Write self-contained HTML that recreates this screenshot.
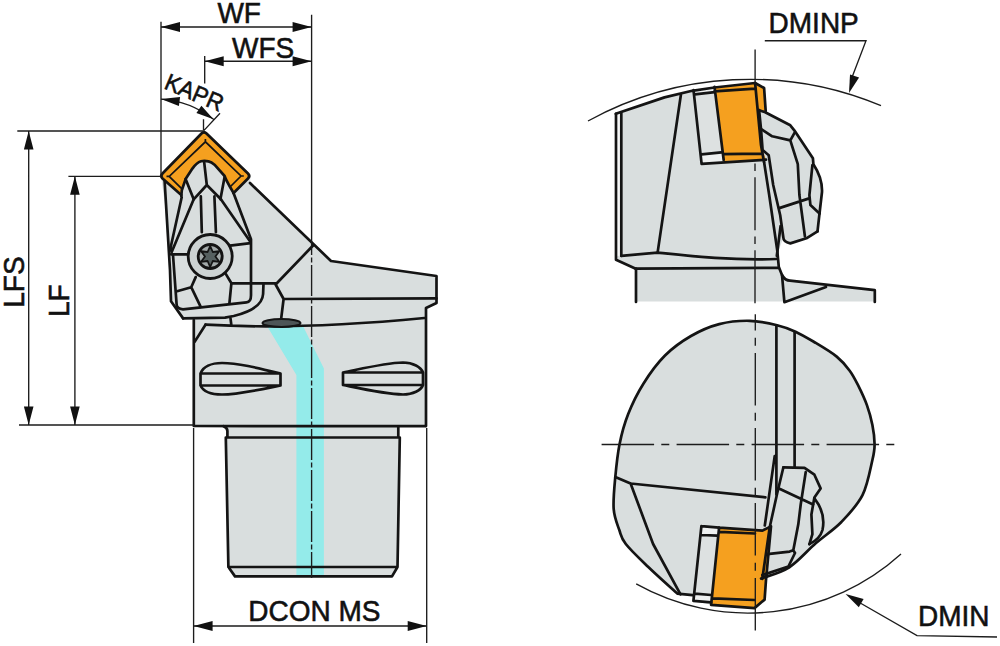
<!DOCTYPE html>
<html><head><meta charset="utf-8"><title>Tool drawing</title>
<style>
html,body{margin:0;padding:0;background:#fff;width:1000px;height:646px;overflow:hidden}
svg{display:block}
text{font-family:"Liberation Sans",sans-serif;fill:#111;stroke:#111;stroke-width:0.55}
.k{fill:none;stroke:#141414;stroke-width:2.7;stroke-linejoin:round;stroke-linecap:round}
.t{fill:none;stroke:#1c1c1c;stroke-width:1.35}
.d{fill:none;stroke:#222;stroke-width:1.3;stroke-dasharray:52 7 8 7}
.a{fill:#111}
</style></head><body>
<svg width="1000" height="646" viewBox="0 0 1000 646">
<g id="left">
<path fill="#d9dede" d="M204,131 L250.5,176 L250,183 L331,261 L436.5,276 L436.5,303 L426,308 L426,426 L398.3,426 L398.3,437.5 L399.8,437.5 L397.5,567 L392,576.4 L235,576.4 L228.4,567 L225.8,437.5 L227.4,437.5 L227.4,426 L194.4,426 L194,343 L193.5,320 L183,318.4 L171,301.3 L165,205 L161,176 Z"/>
<path fill="#94ebea" d="M267.6,327 L303,326 L323.9,368.4 L323.9,575.5 L296.4,575.5 L296.4,375 Z"/>
<path fill="#f5a01f" d="M181.3,195 L162.5,178.5 Q160,176 162.5,173.5 L201.5,133.5 Q204,131 206.5,133.5 L248,173.5 Q250.5,176 248,178.5 L233.6,193 L230.5,187.8 L226,179.5 L224.6,176 L214.7,164.9 C213,163.5 211.5,162.2 208.5,161.4 C206,160.8 203,160.8 201,161.3 C197,162.5 195,165 192.4,168.6 L185.6,179.1 Z"/>
<path class="k" d="M181.3,195 L162.5,178.5 Q160,176 162.5,173.5 L201.5,133.5 Q204,131 206.5,133.5 L248,173.5 Q250.5,176 248,178.5 L233.6,193"/>
<path fill="none" stroke="#141414" stroke-width="1.7" d="M182.2,189.1 L169.2,176.4 L205.4,141.8 L241,176 L230.5,186.5 M169.2,176.4 L166.5,176.4 M205.4,141.8 L205.4,139 M241,176 L243.8,176"/>
<path class="k" d="M181.3,196 L181.8,190.3 L185.6,179.1 L192.4,168.6 C195,165 197,162.5 201,161.3 C203,160.8 206,160.8 208.5,161.4 C211.5,162.2 213,163.5 214.7,164.9 L224.6,176 L226,179.5 L230.5,187.8 L233.6,193"/>
<path class="k" d="M204.2,162.4 L206.8,185 L193.7,199.3 M206.8,185 L220.9,199.3 M185.6,179.1 L193.7,199.3 M224.6,177 L220.4,199.3"/>
<path class="k" d="M200.8,196.3 L201.8,232.2 M214.4,196.3 L215.9,232.2"/>
<path class="k" d="M164.6,181 L170,270 L171,301.3 L183.1,318.4"/>
<path class="k" d="M181.7,197.3 L170,250.3 M193.7,199.3 L171.6,252.3 M220.9,199.3 L250,241.2"/>
<path class="k" d="M233.5,193 L251,239.2 L251,295.2 Q251,302 246.5,302.3 L183,309.3 Q176.6,309 176.6,304.3 L173,255"/>
<path class="k" d="M171,254.3 L187.7,254.3 M230,245.7 L250.6,243.2"/>
<circle cx="210.2" cy="256.5" r="22" fill="#cdd3d3" stroke="#141414" stroke-width="2.8"/>
<circle cx="210.2" cy="256.5" r="12" fill="#a3aaaa" stroke="#141414" stroke-width="2.8"/>
<path fill="#566060" stroke="#141414" stroke-width="1.8" stroke-linejoin="round" d="M210.2,246.0 L212.8,252.0 L219.3,251.2 L215.4,256.5 L219.3,261.8 L212.8,261.0 L210.2,267.0 L207.6,261.0 L201.1,261.8 L205.0,256.5 L201.1,251.2 L207.6,252.0Z"/>
<path class="k" d="M195.7,277.1 L191.2,287.2 L200.7,306.8 M177.1,291.2 L191.2,287.2 M225.9,274.1 L231.4,283.2 L229.4,303.3 M231.4,283.2 L276,283.4"/>
<path class="k" d="M263.5,283.4 L263.1,294 C262.5,305 250,312 233.7,316 L225,317.6 L183.1,318.4"/>
<path class="k" d="M250,183 L331,261 L436.5,276 L436.5,303 L426,308 L426,426"/>
<path class="k" d="M313.3,245.3 L275.6,284.5 L283.6,299 L281.2,318.3 M283.6,299 L436.5,298.4"/>
<path class="k" d="M205.5,324.7 Q300,330 424.4,318 M230.5,318.3 L231.3,324.7"/>
<path class="k" d="M193.8,320 L193.8,426 L425.5,426.2 M205.5,324.7 L194.3,342.4"/>
<ellipse cx="281.5" cy="323" rx="19" ry="4" fill="#4d5556" stroke="#141414" stroke-width="2"/>
<path class="k" d="M280.5,373.5 C258,368 238,363 222,363 C211,363 203,367 200.5,373.5 L200.5,385.5 C203,391 211,394.5 222,394.5 C238,394.5 258,390 280.5,385.5 Z M200.5,373.5 L280.5,373.5 M200.5,385.5 L280.5,385.5"/>
<path class="k" d="M343,372.5 C365,368 385,363 403,362.5 C413,362.5 421,367 423,372.5 L423,385 C421,390.5 413,394.5 403,394.5 C385,394 365,389.5 343,385 Z M343,372.5 L423,372.5 M343,385 L423,385"/>
<path class="k" d="M223.5,426.2 Q227.4,427.5 227.4,431 L227.4,437.5 M398.3,426.5 L398.3,437.5 M225.8,437.5 L399.8,437.5 M225.8,437.5 L228.4,567 L235,576.4 L392,576.4 L397.5,567 L399.8,437.5 M228.4,567 L397.5,567"/>
<path class="t" d="M311.6,257.5 L311.6,578" stroke-dasharray="5 2.5 31 2.5"/>
</g>
<g id="dims">
<path class="t" d="M161,21.7 L161,176 M311.6,14.7 L311.6,255 M204.7,56 L204.7,83.4 M161,27 L311.6,27 M204.7,61.2 L311.6,61.2"/>
<path class="a" d="M161,27 L180,22 L180,32 Z M311.6,27 L292.6,22 L292.6,32 Z M204.7,61.2 L223.7,56.2 L223.7,66.2 Z M311.6,61.2 L292.6,56.2 L292.6,66.2 Z"/>
<path class="t" d="M17.3,131 L204,131 M68.4,176.3 L161,176.3 M19,425 L194,425 M28.7,131 L28.7,425 M74.9,176.3 L74.9,425 M193.6,428 L193.6,643 M426.7,428 L426.7,643 M193.6,626 L426.7,626"/>
<path class="a" d="M28.7,131 L23.9,149.5 L33.5,149.5 Z M28.7,425 L23.9,406.5 L33.5,406.5 Z M74.9,176.3 L70.1,194.8 L79.7,194.8 Z M74.9,425 L70.1,406.5 L79.7,406.5 Z M193.6,626 L212.6,621 L212.6,631 Z M426.7,626 L407.7,621 L407.7,631 Z"/>
<path class="t" d="M161,99.1 Q190,101 213.5,119.2 M203.5,119.2 L203.5,130 M203.8,130.6 L220,113.2"/>
<path class="a" d="M161,99.1 L180.1,97 L178.9,106 Z M213.5,119.2 L201.4,105.7 L196.4,113.1 Z"/>
<text transform="translate(217.4,22.5) scale(1,1.05)" font-size="28">WF</text>
<text transform="translate(232,57.5) scale(1,1.05)" font-size="28">WFS</text>
<text transform="translate(248.3,620.7) scale(1,1.05)" font-size="28">DCON MS</text>
<text transform="translate(23.5,307.7) rotate(-90) scale(1,1.05)" font-size="28">LFS</text>
<text transform="translate(68.7,317) rotate(-90) scale(1,1.05)" font-size="28">LF</text>
<text transform="translate(163,88) rotate(23) scale(1,1.05)" font-size="22.5">KAPR</text>
</g>
<g id="tv">
<path fill="#d9dede" d="M615.8,113.8 L664.5,97.4 L692.1,90.8 L714.5,87.5 L755.1,83 L764.1,88 L765.7,111.2 L790.3,125.3 L794.3,130.3 L812.9,158.2 L813.4,164.2 Q822.5,178 822,192 L819.5,213.5 L817.5,231.3 L806.4,238.3 L790.3,243.4 Q783.3,242 783.3,237.3 L779,250 L776.4,259 L778.8,267 L782,275 Q785,280.6 790,280.6 L874.8,290.2 L874.8,301.4 L636,301.4 L636,268.6 L616,259.8 Z"/>
<path fill="#f6f7f7" d="M616,113.8 L621.3,112.3 L621.3,255.8 L616,256 Z"/>
<path fill="#dde1e1" d="M692.8,90.8 L714.5,87.5 L723.7,160 L702.6,163 Z"/>
<path fill="#eef0f0" d="M693.5,90.2 L714.6,87.5 L715.2,92.2 L694.8,94.3 Z M701.6,154.3 L721.4,152.3 L722.8,161.1 L701.6,163.9 Z"/>
<path fill="#f5a01f" d="M714.5,87 L755.1,83 L764.1,88 L765.7,111.2 L759.1,110.2 L761.1,130 L762.6,150.1 L766,159.7 L723.7,161 Z"/>
<path class="k" d="M616,113.8 L616,259.8 L635.2,268.6 L636,268.6 L636,302"/>
<path class="k" d="M621.3,113.5 L621.3,255.8"/>
<path class="k" d="M615.8,113.8 L664.5,97.4 L692.1,90.8 L714.5,87.5 L755.1,83 L764.1,88 L765.7,111.2"/>
<path class="k" d="M680.9,94.7 L657.6,252.6"/>
<path class="k" d="M621.3,255.8 L657.6,252.6 C690,256 730,260.6 776.4,259"/>
<path class="k" d="M635.2,268.6 L778.8,267.8"/>
<path class="k" d="M764.1,162.2 L769.2,195 L777.2,250 L778.8,267 L782,275 Q785,280.6 790,280.6 L874.8,290.2 L874.8,302"/>
<path class="k" d="M782,275 L784.4,302.2 L826,287"/>
<path class="k" d="M693.5,90.2 L701.6,163.9 L766,159.7 M694.8,94.3 L714.6,92.2 M701.6,154.3 L721.4,152.3"/>
<path class="k" d="M714.5,86.8 L723.7,160 M714.5,91.4 L755,88.6 M723,154.1 L762.1,153.6 M755.1,83 L761,145 L764,162"/>
<path class="k" d="M759.1,110.2 L765.2,112.2 L790.3,125.3 L794.3,130.3 L812.9,158.2 L813.4,164.2 Q822.5,178 822,192 L819.5,213.5 L817.5,231.3"/>
<path class="k" d="M817.5,231.3 L806.4,238.3 L790.3,243.4 Q783.3,242 783.3,237.3 L780.2,215.2 L773.2,185 L768.7,155.2 L762.6,150.1 L761.1,130 L759.1,110.2"/>
<path class="k" d="M761.6,129.3 L772.2,136.3 L790.3,140.4 L794.8,132.3 M790.3,140.4 L797.8,164.2 L799.4,195 L804.9,236.3 M812.4,165.2 L809.4,195.1 L810.4,205.1 L819.5,213.5 M779.2,208.1 L808.4,198.6 M780.6,226 L776.8,256"/>
<path class="t" d="M755.1,49.6 L755.1,84"/>
<path class="t" d="M755,163.6 L755,306" stroke-dasharray="7.5 6.2 53 6.3"/>
</g>
<g id="dminp">
<path class="t" d="M588,121 A337,337 0 0 1 881,105.7"/>
<path class="t" d="M764.8,40.7 L866,40.7 L851,80"/>
<path class="a" d="M849,93 L850,74.4 L859.1,77.4 Z"/>
<text transform="translate(768.6,32.5) scale(1,1.05)" font-size="28">DMINP</text>
</g>
<g id="bv">
<path fill="#d9dede" d="M677.3,593.6 C672.5,589.2 656.9,575.3 648.3,567.0 C639.7,558.7 630.6,550.2 625.8,544.0 C621.0,537.8 621.3,535.8 619.3,530.0 C617.3,524.2 614.4,518.0 613.7,509.2 C613.0,500.4 614.3,487.8 615.3,477.0 C616.3,466.2 617.4,454.9 619.5,444.4 C621.6,433.9 624.2,424.1 628.2,414.0 C632.2,403.9 637.3,393.4 643.4,383.7 C649.5,373.9 657.1,363.4 665.0,355.5 C672.9,347.6 682.0,341.2 691.0,336.0 C700.0,330.8 709.4,326.6 719.2,324.1 C729.0,321.6 740.0,320.6 749.6,320.8 C759.2,321.0 769.5,323.4 777.1,325.2 C784.8,327.0 789.2,328.8 795.5,331.7 C801.8,334.6 808.1,338.4 815.0,342.5 C821.9,346.6 830.9,351.9 836.7,356.6 C842.5,361.3 846.1,365.8 849.7,370.7 C853.3,375.6 855.5,380.1 858.4,385.9 C861.3,391.7 864.7,398.9 867.0,405.4 C869.3,411.9 871.1,418.4 872.4,424.9 C873.7,431.4 874.6,438.5 874.6,444.4 C874.6,450.2 874.4,451.5 872.4,460.0 C870.4,468.5 867.7,484.9 862.5,495.2 C857.3,505.5 849.1,514.0 841.4,522.0 C833.6,530.0 824.7,535.6 816.0,543.1 C807.3,550.6 798.4,561.4 789.3,567.3 C780.1,573.2 765.8,576.6 761.1,578.5 L766,580 L764.6,599.6 L754.1,608.1 L711.1,604.8 L693.4,600.8 L692.6,595.2 Z"/>
<path fill="#dde1e1" d="M701.4,526.1 L719.1,527.7 L711.1,602.4 L693.4,600.8 Z"/>
<path fill="#eef0f0" d="M701,526.1 L718.7,527.5 L717.3,535.7 L701.6,535 Z M694.8,593.7 L711.2,595 L711.2,601.9 L693.5,600.5 Z"/>
<path fill="#f5a01f" d="M719.1,527.7 L762.5,530.6 L771,526.4 L766,580 L764.6,599.6 L754.1,608.1 L711.1,604.8 Z"/>
<path class="k" d="M692.6,595.2 L677.3,593.6 C672.5,589.2 656.9,575.3 648.3,567.0 C639.7,558.7 630.6,550.2 625.8,544.0 C621.0,537.8 621.3,535.8 619.3,530.0 C617.3,524.2 614.4,518.0 613.7,509.2 C613.0,500.4 614.3,487.8 615.3,477.0 C616.3,466.2 617.4,454.9 619.5,444.4 C621.6,433.9 624.2,424.1 628.2,414.0 C632.2,403.9 637.3,393.4 643.4,383.7 C649.5,373.9 657.1,363.4 665.0,355.5 C672.9,347.6 682.0,341.2 691.0,336.0 C700.0,330.8 709.4,326.6 719.2,324.1 C729.0,321.6 740.0,320.6 749.6,320.8 C759.2,321.0 769.5,323.4 777.1,325.2 C784.8,327.0 789.2,328.8 795.5,331.7 C801.8,334.6 808.1,338.4 815.0,342.5 C821.9,346.6 830.9,351.9 836.7,356.6 C842.5,361.3 846.1,365.8 849.7,370.7 C853.3,375.6 855.5,380.1 858.4,385.9 C861.3,391.7 864.7,398.9 867.0,405.4 C869.3,411.9 871.1,418.4 872.4,424.9 C873.7,431.4 874.6,438.5 874.6,444.4 C874.6,450.2 874.4,451.5 872.4,460.0 C870.4,468.5 867.7,484.9 862.5,495.2 C857.3,505.5 849.1,514.0 841.4,522.0 C833.6,530.0 824.7,535.6 816.0,543.1 C807.3,550.6 798.4,561.4 789.3,567.3 C780.1,573.2 765.8,576.6 761.1,578.5"/>
<path class="k" d="M794.6,332.4 L794.6,467.5"/>
<path class="k" d="M615.3,477 L630.6,483.5 L765.4,497.3 M630.6,483.5 L653.1,544 L680.5,594.4"/>
<path class="k" d="M701.4,526.1 L693.4,600.8 L711.1,602.4 M701.4,526.1 L719.1,527.7 M701.6,535 L717.3,535.7 M694.8,593.7 L711.2,595"/>
<path class="k" d="M719.1,527.7 L711.1,604.8 L754.5,608.1 L764.6,599.6 L766,580 L771,526.4 L762.5,530.6 L719.1,527.7 M719.5,531.8 L755,533.5 M712.7,598.4 L754.5,600"/>
<path class="k" d="M783.4,467.3 L804.5,467.8 L814.4,474.7 L820.6,488.4 L814.4,497.5 L811.4,514.4 L812.4,534.2 L809.4,544.1"/>
<path class="k" d="M814.4,498.3 C822,508 825,518 822.5,530 C820.5,537 816,541 809.4,544.1"/>
<path class="k" d="M783.4,467.3 L777.2,493.3 L769.8,526.8 L762.3,578.9"/>
<path class="k" d="M805.7,472.2 L800.7,504.5 L798.3,524.3 L793.3,550.3 L789.6,551.6 L767.3,554.1 M793.3,550.3 L795,553 L788.4,566.5 L762.3,575.1 M778.4,488.3 L813.1,504.5"/>
<path class="k" d="M774.7,456.1 L764.8,525.5 M776.4,325.4 L776.4,494.5"/>
<path class="t" d="M601.6,444.5 L895,444.5" stroke-dasharray="52.5 7.2 8 7.3"/>
<path class="t" d="M755.3,314.2 L755.3,631.4" stroke-dasharray="52.5 7.2 8 7.3" stroke-dashoffset="36.2"/>
</g>
<g id="dmin">
<path class="t" d="M636.2,583.9 A228.3,228.3 0 0 0 901,554"/>
<path class="t" d="M855,600 L917,635.6 L997,637"/>
<path class="a" d="M845.6,594 L863.6,598.9 L858.8,607.2 Z"/>
<text transform="translate(918,626) scale(1,1.05)" font-size="28">DMIN</text>
</g>
</svg>
</body></html>
